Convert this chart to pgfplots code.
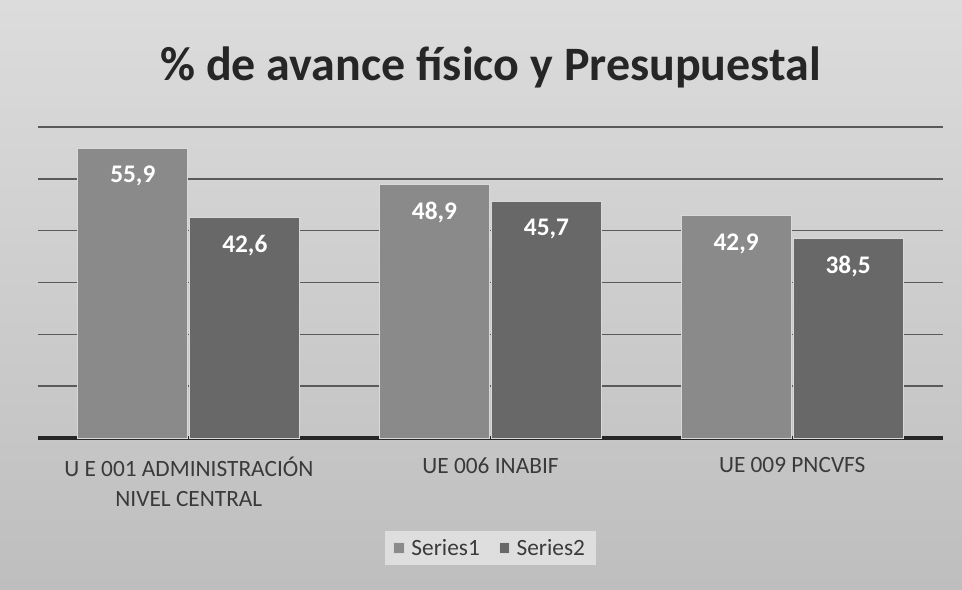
\documentclass[border=0pt]{standalone}
\usepackage{fontspec}
\setmainfont{Carlito}
\usepackage{pgfplots}
\pgfplotsset{compat=1.18}

\definecolor{bgtop}{HTML}{DCDCDC}
\definecolor{bgbot}{HTML}{BEBEBE}
\definecolor{serA}{HTML}{8A8A8A}
\definecolor{serB}{HTML}{686868}
\definecolor{gridc}{HTML}{5A5A5A}
\definecolor{txt}{HTML}{3A3A3A}

\begin{document}
\begin{tikzpicture}
% background of the chart (962 x 589 px, 1 px = 0.75pt)
\useasboundingbox (0pt,0pt) rectangle (721.5pt,441.75pt);
\shade[top color=bgtop, bottom color=bgbot] (0pt,0pt) rectangle (721.5pt,441.75pt);
\node[font=\fontsize{36}{40}\selectfont\bfseries, text=black!85]
  at (368pt,391pt) {\% de avance físico y Presupuestal};

\begin{axis}[
    at={(28.5pt,113.25pt)}, anchor=south west,
    scale only axis,
    width=678.75pt, height=233.25pt,
    ybar, bar width=82.5pt, ybar=1.5pt,
    xmin=-0.5, xmax=2.5,
    ymin=0, ymax=60,
    xtick=data,
    xticklabels={{U E 001 ADMINISTRACIÓN\\NIVEL CENTRAL},{UE 006 INABIF},{UE 009 PNCVFS}},
    xticklabel style={align=center, anchor=north, yshift=-11pt,
        font=\fontsize{17.5}{22.5}\selectfont, text=txt},
    major tick length=0pt,
    ytick={10,20,...,60},
    yticklabels={},
    ymajorgrids,
    grid style={gridc, line width=1.1pt},
    extra y ticks={0},
    extra y tick labels={},
    extra y tick style={grid style={black!85, line width=2.4pt}},
    axis line style={draw=none},
    nodes near coords={\pgfmathprintnumber[fixed,fixed zerofill,precision=1,use comma,assume math mode=true]{\pgfplotspointmeta}},
    every node near coord/.append style={anchor=center, yshift=-21pt,
        font=\fontsize{19}{21}\selectfont\bfseries, text=white},
    legend style={at={(0.5,-0.354)}, anchor=center, draw=none,
        fill=black!13, legend columns=2, inner xsep=6pt, inner ysep=4pt,
        font=\fontsize{17.5}{20}\selectfont, text=txt,
        /tikz/every odd column/.append style={column sep=3pt},
        /tikz/every even column/.append style={column sep=12pt}},
    legend image code/.code={\fill[#1] (0pt,-4pt) rectangle (8pt,4pt);},
]
\addplot[fill=serA, draw=white!85!black, line width=0.6pt]
  coordinates {(0,55.9) (1,48.9) (2,42.9)};
\addplot[fill=serB, draw=white!85!black, line width=0.6pt]
  coordinates {(0,42.6) (1,45.7) (2,38.5)};
\legend{Series1,Series2}
\end{axis}
\end{tikzpicture}
\end{document}
